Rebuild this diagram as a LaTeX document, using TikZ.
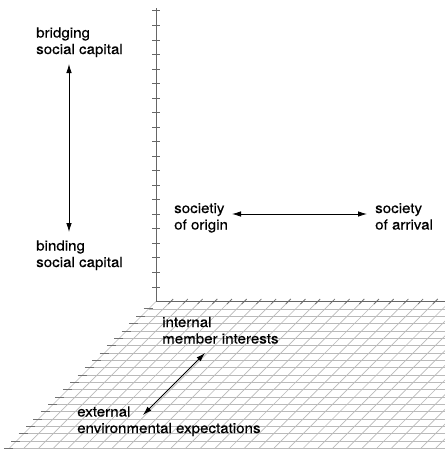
\documentclass[tikz,border=0pt]{standalone}
\usepackage{fontspec}
\setmainfont{TeX Gyre Heros}[FakeStretch=1.08,FakeBold=0.4]
\usepackage{tikz}
\usetikzlibrary{arrows.meta}

\begin{document}
\begin{tikzpicture}[%
      x=1pt, y=-1pt,
      axis/.style={color=black!60, line width=0.9pt},
      mesh/.style={color=black!27, line width=0.65pt},
      meshtick/.style={color=black!55, line width=0.8pt},
      duo/.style={color=black, line width=0.8pt,
        {Latex[length=9pt,width=5.5pt]}-{Latex[length=9pt,width=5.5pt]}},
      lbl/.style={anchor=base west, align=left, inner sep=0pt,
        font=\fontsize{14}{16.5}\selectfont},
      ]
      \useasboundingbox (0,0) rectangle (445,451);

      % floor
      \begin{scope}
      \clip (0,0) rectangle (445,451);
      \foreach \k in {1,...,20}
        \draw [mesh] (156-7.35*\k,301.5+7.35*\k) -- (445,301.5+7.35*\k);
      \foreach \k in {1,...,40}
        \draw [mesh] (156+14.7*\k,301.5) -- (9.5+14.7*\k,448);
      \draw [mesh] (156,301.5) -- (9.5,448);
      \foreach \k in {1,...,20}
        \draw [meshtick] (151-7.35*\k,301.5+7.35*\k) -- (160-7.35*\k,301.5+7.35*\k);
      \foreach \k in {1,...,20}
        \draw [meshtick] (153.5+14.7*\k,304) -- (158.5+14.7*\k,299);
      \end{scope}

      % axes
      \draw [axis] (156,8) -- (156,301.5) -- (445,301.5);
      \foreach \k in {1,...,20}
        \draw [axis] (152,301.5-14.53*\k) -- (160,301.5-14.53*\k);

      % labels (base = last line)
      \node [lbl] (bridging) at (36,54) {bridging\\social capital};
      \node [lbl] (binding) at (36,267) {binding\\social capital};
      \node [lbl] (origin) at (174,229.5) {societiy\\of origin};
      \node [lbl] (arrival) at (375,229.5) {society\\of arrival};
      \node [lbl] (internal) at (162,343.5) {internal\\member interests};
      \node [lbl] (external) at (77,433) {external\\environmental expectations};

      % arrows
      \coordinate (bridgetip) at (69,64);
      \coordinate (bindtip) at (69,232);
      \coordinate (origintip) at (232,214);
      \coordinate (arrivaltip) at (367,214);
      \coordinate (internaltip) at (205,353);
      \coordinate (externaltip) at (143,415);
      \draw [duo] (bridgetip) -- (bindtip);
      \draw [duo] (origintip) -- (arrivaltip);
      \draw [duo] (internaltip) -- (externaltip);
\end{tikzpicture}
\end{document}
